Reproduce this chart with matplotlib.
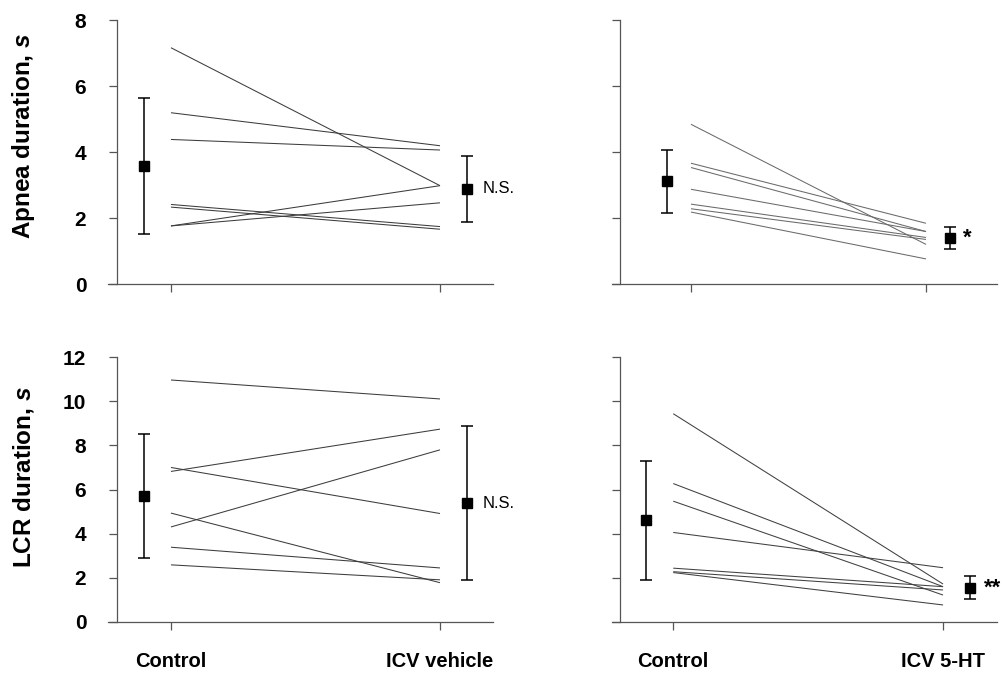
import matplotlib
matplotlib.use("Agg")
import matplotlib.pyplot as plt
import numpy as np

plt.rcParams['font.family'] = ['Liberation Sans', 'DejaVu Sans']
plt.rcParams['mathtext.fontset'] = 'custom'
plt.rcParams['mathtext.it'] = 'Liberation Sans:bold:italic'
plt.rcParams['mathtext.rm'] = 'Liberation Sans:bold'

# ---------------- data ----------------
apnea_vehicle_control = [7.16, 5.19, 4.38, 1.76, 1.76, 2.41, 2.33]
apnea_vehicle_icv     = [2.98, 4.19, 4.06, 2.98, 2.46, 1.74, 1.66]
apnea_vehicle_mean = [3.57, 2.88]
apnea_vehicle_sd   = [2.06, 1.00]

apnea_5ht_control = [4.84, 3.66, 3.53, 2.87, 2.42, 2.28, 2.18]
apnea_5ht_icv     = [1.20, 1.84, 1.59, 1.59, 1.41, 1.35, 0.76]
apnea_5ht_mean = [3.11, 1.40]
apnea_5ht_sd   = [0.95, 0.33]

lcr_vehicle_control = [10.97, 6.82, 7.00, 4.30, 4.93, 3.38, 2.58]
lcr_vehicle_icv     = [10.11, 8.74, 4.91, 7.80, 1.77, 2.44, 1.90]
lcr_vehicle_mean = [5.71, 5.38]
lcr_vehicle_sd   = [2.83, 3.50]

lcr_5ht_control = [9.44, 6.27, 5.47, 4.05, 2.43, 2.27, 2.23]
lcr_5ht_icv     = [1.71, 1.59, 1.21, 2.45, 1.59, 1.44, 0.76]
lcr_5ht_mean = [4.60, 1.54]
lcr_5ht_sd   = [2.70, 0.52]

left_labels = ["Control", "ICV vehicle"]
right_labels = ["Control", "ICV 5-HT"]
apnea_ticks = [0, 2, 4, 6, 8]
lcr_ticks = [0, 2, 4, 6, 8, 10, 12]
ylabels = ["Apnea duration, $s$", "LCR duration, $s$"]
sig_labels = ["N.S.", "*", "N.S.", "**"]

# ---------------- figure ----------------
W, H = 1008, 675
fig = plt.figure(figsize=(W / 100, H / 100), dpi=100)

def fr(x0, y0, x1, y1):
    return [x0 / W, 1 - y1 / H, (x1 - x0) / W, (y1 - y0) / H]

axes_px = {
    'tl': fr(108, 20, 493, 284),
    'tr': fr(612, 20, 997, 284),
    'bl': fr(108, 357.3, 493, 621.7),
    'br': fr(612, 357.3, 997, 621.7),
}
# x-limits (axis extent) and y-spine position per panel
xcfg = {
    'tl': (0.766, 2.197, 0.799),
    'tr': (0.664, 2.302, 0.699),
    'bl': (0.766, 2.197, 0.799),
    'br': (0.773, 2.200, 0.803),
}

line_col = {'tl': '#3c3c3c', 'tr': '#6a6a6a', 'bl': '#3c3c3c', 'br': '#404040'}
spine_col = '#555555'

panels = [
    ('tl', apnea_vehicle_control, apnea_vehicle_icv, apnea_vehicle_mean, apnea_vehicle_sd,
     left_labels, apnea_ticks, True, False, sig_labels[0], False),
    ('tr', apnea_5ht_control, apnea_5ht_icv, apnea_5ht_mean, apnea_5ht_sd,
     right_labels, apnea_ticks, False, False, sig_labels[1], True),
    ('bl', lcr_vehicle_control, lcr_vehicle_icv, lcr_vehicle_mean, lcr_vehicle_sd,
     left_labels, lcr_ticks, True, True, sig_labels[2], False),
    ('br', lcr_5ht_control, lcr_5ht_icv, lcr_5ht_mean, lcr_5ht_sd,
     right_labels, lcr_ticks, False, True, sig_labels[3], True),
]

for key, c, v, m, sd, xl, yt, show_yl, show_xl, sig, bold_sig in panels:
    ax = fig.add_axes(axes_px[key])
    x0, x1, xs = xcfg[key]
    ax.set_xlim(x0, x1)
    ax.set_ylim(0, yt[-1])
    for a, b in zip(c, v):
        ax.plot([1, 2], [a, b], color=line_col[key], lw=0.75, solid_capstyle='butt')
    ax.errorbar([0.9, 2.1], m, yerr=sd, fmt='s', color='black', ms=6.5,
                capsize=4, elinewidth=1.1, capthick=1.1)
    ax.spines['top'].set_visible(False)
    ax.spines['right'].set_visible(False)
    ax.spines['left'].set_position(('data', xs))
    for s in ('left', 'bottom'):
        ax.spines[s].set_color(spine_col)
        ax.spines[s].set_linewidth(0.9)
    ax.set_xticks([1, 2])
    if show_xl:
        ax.set_xticklabels(xl, fontsize=14.5, fontweight='bold')
    else:
        ax.set_xticklabels([])
    ax.set_yticks(yt)
    if show_yl:
        ax.set_yticklabels([str(t) for t in yt], fontsize=15, fontweight='bold')
    else:
        ax.set_yticklabels([])
    ax.tick_params(axis='both', direction='out', length=6, width=0.9, color=spine_col)
    ax.tick_params(axis='y', pad=16)
    ax.tick_params(axis='x', pad=16)
    ax.annotate(sig, xy=(2.1, m[1]), xytext=(11 if not bold_sig else 10, 0),
                textcoords='offset points', ha='left', va='center',
                fontsize=(12 if not bold_sig else 16),
                fontweight=('bold' if bold_sig else 'normal'))

fig.text(24 / W, 1 - 136 / H, ylabels[0], rotation=90, ha='center', va='center',
         fontsize=17.5, fontweight='bold')
fig.text(24 / W, 1 - 477 / H, ylabels[1], rotation=90, ha='center', va='center',
         fontsize=17.5, fontweight='bold')

fig.savefig("out.png", dpi=100, facecolor='white')
